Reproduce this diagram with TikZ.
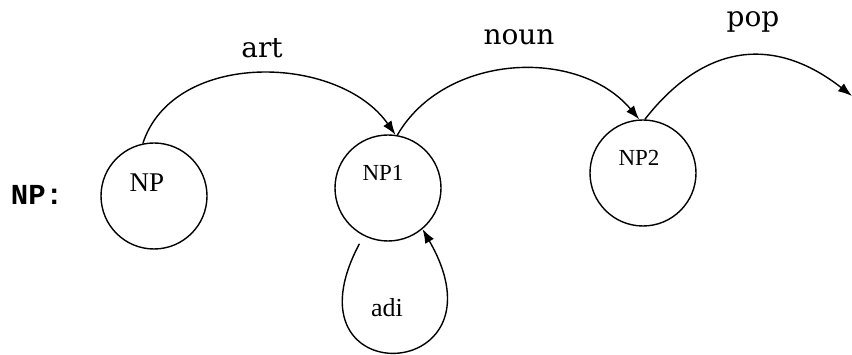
\documentclass[tikz,border=0pt]{standalone}
\usepackage{fontspec}
\setmainfont{Liberation Serif}
\newfontfamily\arcfont{DejaVu Serif}
\newfontfamily\headfont{Liberation Mono}
\usetikzlibrary{arrows.meta}
\tikzset{
    state/.style={draw, circle, line width=1.4pt, minimum size=106pt, inner sep=0pt},
    arclabel/.style={font=\arcfont\fontsize{28}{28}\selectfont},
    statelabel/.style={font=\fontsize{23}{23}\selectfont},
    arc/.style={line width=1.4pt, -{Latex[length=14pt,width=10pt]}}
}
\begin{document}
\begin{tikzpicture}[x=1pt, y=-1pt]
        \useasboundingbox (0, 0) rectangle (852, 355);

        \node[font=\headfont\bfseries\fontsize{29}{29}\selectfont] (head) at (37, 195) {NP:};

        \node[state] (np) at (154, 196) {};
        \node[state] (np1) at (388, 188) {};
        \node[state] (np2) at (643, 173) {};

        \node[statelabel, font=\fontsize{27}{27}\selectfont] (nplabel) at (147, 183) {NP};
        \node[statelabel] (np1label) at (383, 173) {NP1};
        \node[statelabel] (np2label) at (639, 158) {NP2};

        \coordinate (popend) at (852, 96);

        \draw[arc] (np.102) to[out=72, in=125] (np1.82);
        \draw[arc] (np1.80) to[out=60, in=130] (np2.94);
        \draw[arc] (np2.88) to[out=52, in=142, looseness=1.2] (popend);
        \draw[arc, shorten <=9pt] (np1.243) to[out=242, in=-60, looseness=7.8] (np1.-50);

        \node[arclabel] (artlabel) at (262, 48) {art};
        \node[arclabel] (nounlabel) at (519, 37) {noun};
        \node[arclabel] (poplabel) at (753, 22) {pop};
        \node[statelabel, font=\fontsize{26}{26}\selectfont] (adjlabel) at (387, 308) {adi};
    \end{tikzpicture}
\end{document}
